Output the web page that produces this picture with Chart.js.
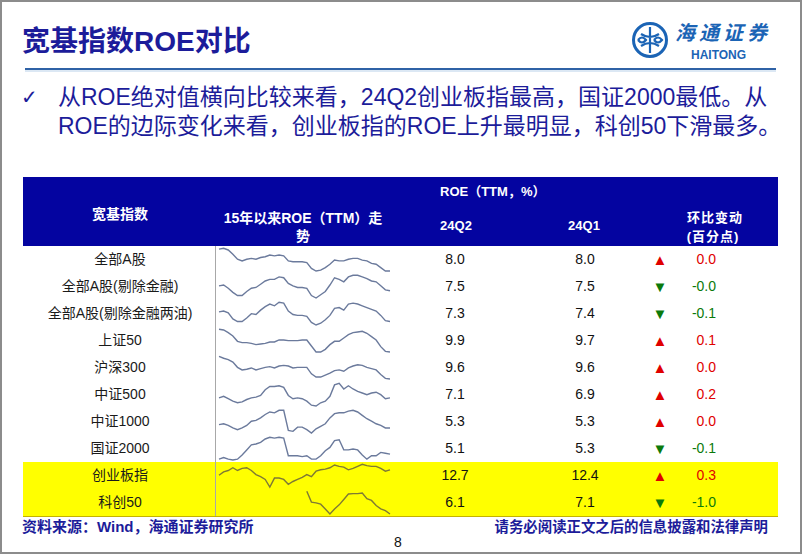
<!DOCTYPE html>
<html>
<head>
<meta charset="utf-8">
<script src="https://cdn.jsdelivr.net/npm/chart.js@4.4.1/dist/chart.umd.min.js"></script>
<style>
  body { margin: 0; width: 802px; height: 554px; overflow: hidden; background: #fff;
         font-family: "Liberation Sans", "Noto Sans CJK SC", sans-serif; }
  #slide { position: relative; width: 802px; height: 554px; }
  #frame { position: absolute; left: 0; top: 0; width: 802px; height: 554px; box-sizing: border-box;
           border: 2px solid #8c8c8c; pointer-events: none; }
  .abs { position: absolute; white-space: nowrap; }
  .navy { color: #1c1c9a; }
  .hd { color: #fff; font-weight: bold; font-size: 13px; text-align: center; }
  canvas { position: absolute; }
</style>
</head>
<body>
<div id="slide">
  <div class="abs navy" style="left:22px;top:22px;height:40px;line-height:40px;font-size:28px;font-weight:bold;">宽基指数ROE对比</div>

  <svg class="abs" style="left:628px;top:16px;" width="150" height="48">
    <circle cx="22" cy="24" r="16.5" fill="none" stroke="#1b64b5" stroke-width="3"/>
    <path d="M22 11 V37 M13 18 q9 6 18 0 M13 30 q9 -6 18 0 M10 24 q4 -5 8 0 q-4 5 -8 0 M26 24 q4 -5 8 0 q-4 5 -8 0"
          fill="none" stroke="#1b64b5" stroke-width="2.2"/>
    <text x="47" y="24" font-size="20" font-style="italic" font-weight="bold" fill="#1b64b5"
          font-family="Noto Sans CJK SC" textLength="92">海通证券</text>
    <text x="63" y="43" font-size="12" font-weight="bold" fill="#1b64b5"
          font-family="Liberation Sans">HAITONG</text>
  </svg>

  <div class="abs" style="left:25px;top:67.5px;width:751px;height:2px;background:#2f62a6;"></div>
  <div class="abs" style="left:25px;top:69.5px;width:751px;height:2px;background:#dce8f4;"></div>

  <div class="abs navy" style="left:21px;top:82px;height:30px;line-height:30px;font-size:20px;font-weight:bold;font-family:'DejaVu Sans';">✓</div>
  <div class="abs navy" style="left:58px;top:82px;height:30px;line-height:30px;font-size:23px;">从ROE绝对值横向比较来看，24Q2创业板指最高，国证2000最低。从</div>
  <div class="abs navy" style="left:58px;top:111px;height:30px;line-height:30px;font-size:23px;">ROE的边际变化来看，创业板指的ROE上升最明显，科创50下滑最多。</div>

  <div class="abs" style="left:23px;top:177px;width:755px;height:69px;background:#0404a0;"></div>
  <div class="abs hd" style="left:23px;top:204px;width:194px;height:20px;line-height:20px;font-size:14px;">宽基指数</div>
  <div class="abs hd" style="left:203px;top:209px;width:200px;line-height:18px;font-size:14px;">15年以来ROE（TTM）走<br>势</div>
  <div class="abs hd" style="left:440px;top:182px;height:20px;line-height:20px;">ROE（TTM，%）</div>
  <div class="abs hd" style="left:416px;top:216px;width:80px;height:20px;line-height:20px;">24Q2</div>
  <div class="abs hd" style="left:544px;top:216px;width:80px;height:20px;line-height:20px;">24Q1</div>
  <div class="abs hd" style="left:670px;top:208px;width:90px;height:20px;line-height:20px;letter-spacing:1px;">环比变动</div>
  <div class="abs hd" style="left:668px;top:227px;width:90px;height:20px;line-height:20px;letter-spacing:1px;">(百分点)</div>

  <div class="abs" style="left:23px;top:462px;width:755px;height:54px;background:#ffff00;"></div>
  <div class="abs" style="left:23px;top:515.5px;width:755px;height:1px;background:#c4b200;"></div>
  <div class="abs" style="left:215px;top:246px;width:1px;height:270px;background:#a8a8a8;"></div>

  <div id="table"></div>

  <div class="abs navy" style="left:22px;top:517px;height:20px;line-height:20px;font-size:15px;font-weight:bold;">资料来源：Wind，海通证券研究所</div>
  <div class="abs navy" style="left:418px;top:517px;width:350px;text-align:right;height:20px;line-height:20px;font-size:14.4px;font-weight:bold;">请务必阅读正文之后的信息披露和法律声明</div>
  <div class="abs" style="left:388px;top:532px;width:20px;text-align:center;height:20px;line-height:20px;font-size:14px;color:#111;">8</div>

  <div id="frame"></div>
</div>

<script>
// quarterly points, 2015Q1 .. 2024Q2
const quarters = ['15Q1','15Q2','15Q3','15Q4','16Q1','16Q2','16Q3','16Q4','17Q1','17Q2','17Q3','17Q4',
                  '18Q1','18Q2','18Q3','18Q4','19Q1','19Q2','19Q3','19Q4','20Q1','20Q2','20Q3','20Q4',
                  '21Q1','21Q2','21Q3','21Q4','22Q1','22Q2','22Q3','22Q4','23Q1','23Q2','23Q3','23Q4',
                  '24Q1','24Q2'];

const indexNames = ['全部A股', '全部A股(剔除金融)', '全部A股(剔除金融两油)', '上证50', '沪深300',
                    '中证500', '中证1000', '国证2000', '创业板指', '科创50'];
const roe24Q2 = [8.0, 7.5, 7.3, 9.9, 9.6, 7.1, 5.3, 5.1, 12.7, 6.1];
const roe24Q1 = [8.0, 7.5, 7.4, 9.7, 9.6, 6.9, 5.3, 5.3, 12.4, 7.1];
const qoqChange = ['0.0', '-0.0', '-0.1', '0.1', '0.0', '0.2', '0.0', '-0.1', '0.3', '-1.0'];
const highlighted = [8, 9];

// ROE (TTM) history
const allA      = [10.6,10.7,10.5,10.0,9.4,9.2,9.4,9.5,9.4,9.6,9.7,9.9,9.8,9.9,9.8,9.2,9.1,9.1,9.1,9.0,8.3,8.0,8.1,8.4,8.8,9.3,9.2,9.2,9.4,9.5,9.5,9.3,9.2,8.9,8.8,8.4,8.0,8.0];
const allAExFin = [8.1,8.2,7.8,7.3,6.9,6.9,7.4,7.8,7.9,8.3,8.7,8.9,8.9,9.2,9.1,8.4,8.1,7.9,7.9,7.8,6.9,6.6,7.0,7.4,8.2,9.1,8.9,8.6,9.2,9.4,9.4,9.2,9.0,8.7,8.6,8.1,7.6,7.5];
const allAExFinOil = [8.4,8.5,8.3,7.6,7.3,7.3,7.7,8.2,8.1,8.6,9.0,9.3,9.1,9.5,9.4,8.5,8.1,8.0,8.0,7.9,7.2,6.9,7.1,7.5,8.0,8.8,8.9,8.6,9.3,9.4,9.3,9.1,8.9,8.7,8.5,8.0,7.4,7.3];
const sse50     = [13.3,13.2,12.8,12.3,11.5,11.3,11.3,11.2,11.0,11.1,11.2,11.4,11.4,11.7,11.7,11.6,11.6,11.6,11.7,11.7,10.8,9.9,9.9,10.3,11.0,11.5,11.5,12.0,12.5,12.8,12.9,13.0,12.7,12.2,11.7,10.7,10.0,9.9];
const csi300    = [13.1,12.8,12.6,12.2,11.4,11.0,11.1,11.3,11.0,11.2,11.4,11.5,11.3,11.6,11.7,11.6,11.3,11.4,11.4,11.4,10.4,9.9,9.9,10.2,10.5,10.9,11.0,10.8,11.3,11.6,11.8,11.7,11.4,11.2,11.0,10.3,9.7,9.6];
const csi500    = [7.1,7.3,7.0,6.7,6.5,6.6,6.9,7.1,7.2,7.4,8.1,8.5,8.5,8.6,8.4,7.4,7.0,7.1,7.0,6.7,6.2,6.1,6.5,6.7,7.3,8.7,8.9,8.2,8.6,8.2,7.9,7.7,7.5,7.7,7.8,7.5,7.0,7.1];
const csi1000   = [5.7,5.8,5.6,5.3,5.1,5.3,5.6,6.1,6.2,6.5,6.9,7.2,7.1,7.4,7.4,5.0,4.9,5.4,5.4,5.1,4.7,5.2,5.5,5.8,6.5,7.0,7.1,7.1,7.3,7.4,7.2,6.8,6.4,6.1,5.8,5.6,5.3,5.3];
const cni2000   = [4.5,4.7,4.5,4.4,4.5,5.0,5.6,6.2,6.3,6.5,6.9,7.1,7.0,7.1,7.0,4.9,4.9,4.9,4.8,4.9,4.5,4.5,4.9,5.5,5.9,6.7,6.8,5.6,5.6,5.7,5.6,5.0,4.5,4.9,4.9,5.3,5.2,5.1];
const chinext   = [11.9,12.4,12.6,13.0,12.6,12.9,13.0,12.6,12.0,11.7,11.3,10.2,11.5,11.5,11.3,10.6,11.0,11.3,11.6,12.0,11.7,12.5,12.7,12.8,13.0,13.4,13.2,13.1,12.7,12.9,13.2,13.5,13.3,13.2,13.2,12.9,12.5,12.7];
const star50    = [null,null,null,null,null,null,null,null,null,null,null,null,null,null,null,null,null,null,null,
                   12.8,9.6,9.4,9.0,7.6,6.1,7.6,8.8,10.4,12.0,12.1,12.1,12.3,10.6,10.1,8.6,7.6,7.1,6.1];

const trends = [allA, allAExFin, allAExFinOil, sse50, csi300, csi500, csi1000, cni2000, chinext, star50];

document.addEventListener('DOMContentLoaded', () => {
    const table = document.getElementById('table');
    const rowTop = i => 246 + 27 * i;

    function cell(text, left, width, top, css) {
        const d = document.createElement('div');
        d.className = 'abs';
        d.textContent = text;
        d.style.cssText += `left:${left}px;width:${width}px;top:${top}px;height:27px;line-height:27px;font-size:14px;` + css;
        table.appendChild(d);
    }

    indexNames.forEach((name, i) => {
        const top = rowTop(i);
        const up = !qoqChange[i].startsWith('-');
        const col = up ? '#e00000' : '#0b7a0b';
        cell(name, 23, 194, top, 'text-align:center;color:#1a1a1a;');
        cell(roe24Q2[i].toFixed(1), 405, 100, top, 'text-align:center;color:#111;');
        cell(roe24Q1[i].toFixed(1), 535, 100, top, 'text-align:center;color:#111;');
        cell(up ? '▲' : '▼', 645, 30, top, `text-align:center;color:${col};font-size:15px;`);
        cell(qoqChange[i], 660, 56, top, `text-align:right;color:${col};`);

        // sparkline
        const cv = document.createElement('canvas');
        cv.width = 182;
        cv.height = 27;
        cv.style.left = '214px';
        cv.style.top = top + 'px';
        table.appendChild(cv);
        const vals = trends[i].filter(v => v !== null);
        new Chart(cv, {
            type: 'line',
            data: {
                labels: quarters,
                datasets: [{
                    data: trends[i],
                    borderColor: highlighted.includes(i) ? '#7f7a34' : '#6b7a9c',
                    borderWidth: 1.4,
                    pointRadius: 0,
                    tension: 0,
                    clip: false,
                    spanGaps: false
                }]
            },
            options: {
                responsive: false,
                animation: false,
                events: [],
                layout: { padding: { left: 5, right: 6, top: 2.3, bottom: 2 } },
                plugins: { legend: { display: false }, tooltip: { enabled: false } },
                scales: {
                    x: { display: false },
                    y: { display: false, min: Math.min(...vals), max: Math.max(...vals) }
                }
            }
        });
    });
});
</script>
</body>
</html>
